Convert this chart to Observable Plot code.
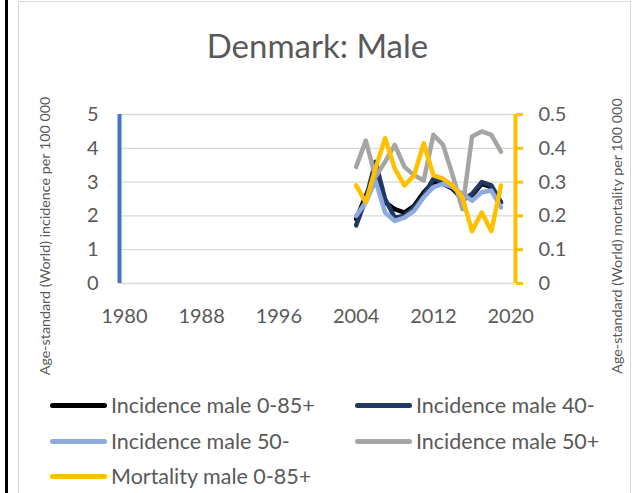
<!DOCTYPE html>
<html>
<head>
<meta charset="utf-8">
<script src="https://cdn.jsdelivr.net/npm/d3@7"></script>
<script src="https://cdn.jsdelivr.net/npm/@observablehq/plot@0.6"></script>
<style>
  html, body { margin: 0; padding: 0; background: #fff; overflow: hidden; }
  #wrap { position: relative; width: 635px; height: 493px; font-family: Lato, "Open Sans", sans-serif; color: #595959; }
  .abs { position: absolute; }
  #title { left: 0; top: 29px; width: 635px; text-align: center; font-size: 33px; line-height: 33px; white-space: nowrap; }
  .ytitle { width: 400px; text-align: center; font-size: 14.3px; line-height: 16px; white-space: nowrap; transform: rotate(-90deg); }
  #chart { left: 0; top: 80px; }
  .leg { font-size: 21.5px; line-height: 24px; white-space: nowrap; }
  .sw { height: 5px; width: 57px; border-radius: 3px; }
</style>
</head>
<body>
<div id="wrap">
  <div class="abs" style="left:5px; top:0; width:3px; height:493px; background:#000"></div>
  <div class="abs" style="left:18px; top:1px; width:613px; height:500px; border:1.5px solid #d9d9d9; box-sizing:border-box"></div>
  <div id="title" class="abs"></div>
  <div id="chart" class="abs"></div>
  <div id="ytl" class="abs ytitle"></div>
  <div id="ytr" class="abs ytitle"></div>
  <div id="legend"></div>
</div>
<script>
// ---- data ----
const titleText = "Denmark: Male";
const leftTitle = "Age-standard (World) incidence per 100 000";
const rightTitle = "Age-standard (World) mortality per 100 000";
const years = [2004, 2005, 2006, 2007, 2008, 2009, 2010, 2011, 2012, 2013, 2014, 2015, 2016, 2017, 2018, 2019];
const incidenceMale0_85 = [1.9, 2.6, 3.2, 2.4, 2.2, 2.1, 2.3, 2.7, 3.0, 2.95, 2.8, 2.5, 2.6, 2.95, 2.85, 2.4];
const incidenceMale40minus = [1.72, 2.5, 3.6, 2.5, 1.95, 2.0, 2.25, 2.6, 3.1, 3.0, 2.85, 2.45, 2.65, 3.0, 2.9, 2.4];
const incidenceMale50minus = [2.0, 2.4, 3.05, 2.1, 1.85, 1.95, 2.15, 2.55, 2.85, 2.95, 2.85, 2.65, 2.45, 2.7, 2.75, 2.25];
const incidenceMale50plus = [3.45, 4.23, 3.15, 3.6, 4.1, 3.45, 3.2, 3.05, 4.4, 4.1, 3.2, 2.2, 4.35, 4.5, 4.4, 3.9];
const mortalityMale0_85 = [0.29, 0.24, 0.34, 0.43, 0.34, 0.29, 0.32, 0.415, 0.32, 0.31, 0.29, 0.255, 0.155, 0.21, 0.155, 0.29];
const seriesNames = ["Incidence male 0-85+", "Incidence male 40-", "Incidence male 50-", "Incidence male 50+", "Mortality male 0-85+"];
const xTickYears = [1980, 1988, 1996, 2004, 2012, 2020];
const xDomain = [1979.5, 2020.5];
const incidenceTicks = [0, 1, 2, 3, 4, 5];
const mortalityTicks = [0, 0.1, 0.2, 0.3, 0.4, 0.5];
const mortalityTickLabels = ["0", "0.1", "0.2", "0.3", "0.4", "0.5"];

// ---- styling ----
const colors = ["#000000", "#203864", "#8FAADC", "#A5A5A5", "#FFC000"];
const axisBlue = "#4472C4";
const yellow = "#FFC000";
const ratio = incidenceTicks[incidenceTicks.length - 1] / mortalityTicks[mortalityTicks.length - 1];

const seriesValues = [incidenceMale0_85, incidenceMale40minus, incidenceMale50minus, incidenceMale50plus, mortalityMale0_85];
const tables = seriesValues.map((vals, s) => years.map((yr, i) => ({
  year: yr,
  value: s === 4 ? vals[i] * ratio : vals[i],
  series: seriesNames[s]
})));

const chart = Plot.plot({
  width: 635,
  height: 270,
  marginLeft: 119,
  marginRight: 120,
  marginTop: 34,
  marginBottom: 67,
  x: {domain: xDomain, label: null},
  y: {domain: [0, 5], label: null},
  style: {fontFamily: "Lato, 'Open Sans', sans-serif", fontSize: "20px", color: "#595959", background: "transparent", overflow: "visible"},
  marks: [
    Plot.gridY(incidenceTicks, {stroke: "#d9d9d9", strokeOpacity: 1, strokeWidth: 1.3}),
    Plot.axisX(xTickYears, {tickSize: 0, tickPadding: 25, tickFormat: d => String(d), label: null, fontSize: 20}),
    Plot.axisY(incidenceTicks, {anchor: "left", tickSize: 0, tickPadding: 21, tickFormat: d => String(d), label: null, fontSize: 20}),
    Plot.axisY(mortalityTicks.map(t => t * ratio), {anchor: "right", tickSize: 7, tickPadding: 16, stroke: yellow, strokeWidth: 3, fill: "#595959",
      tickFormat: d => mortalityTickLabels[Math.round(d / ratio * 10)], label: null, fontSize: 20}),
    ...tables.map((t, s) => Plot.line(t, {x: "year", y: "value", stroke: colors[s], strokeWidth: 4.5, strokeLinejoin: "round", strokeLinecap: "round"})),
    Plot.ruleX([xDomain[0]], {y1: incidenceTicks[0], y2: incidenceTicks[incidenceTicks.length - 1], stroke: axisBlue, strokeWidth: 4}),
    Plot.ruleX([xDomain[1]], {y1: incidenceTicks[0], y2: incidenceTicks[incidenceTicks.length - 1], stroke: yellow, strokeWidth: 4})
  ]
});
document.getElementById("chart").appendChild(chart);

document.getElementById("title").textContent = titleText;
const ytl = document.getElementById("ytl");
ytl.textContent = leftTitle;
ytl.style.left = (45 - 200) + "px";
ytl.style.top = (236 - 8) + "px";
const ytr = document.getElementById("ytr");
ytr.textContent = rightTitle;
ytr.style.left = (617 - 200) + "px";
ytr.style.top = (236 - 8) + "px";

// legend
const legendPos = [[50, 405], [355, 405], [50, 441], [355, 441], [50, 476]];
const legend = document.getElementById("legend");
seriesNames.forEach((name, i) => {
  const [lx, ly] = legendPos[i];
  const sw = document.createElement("div");
  sw.className = "abs sw";
  sw.style.left = lx + "px";
  sw.style.top = (ly - 2.5) + "px";
  sw.style.background = colors[i];
  legend.appendChild(sw);
  const tx = document.createElement("div");
  tx.className = "abs leg";
  tx.style.left = (lx + 61) + "px";
  tx.style.top = (ly - 12) + "px";
  tx.textContent = name;
  legend.appendChild(tx);
});
</script>
</body>
</html>
